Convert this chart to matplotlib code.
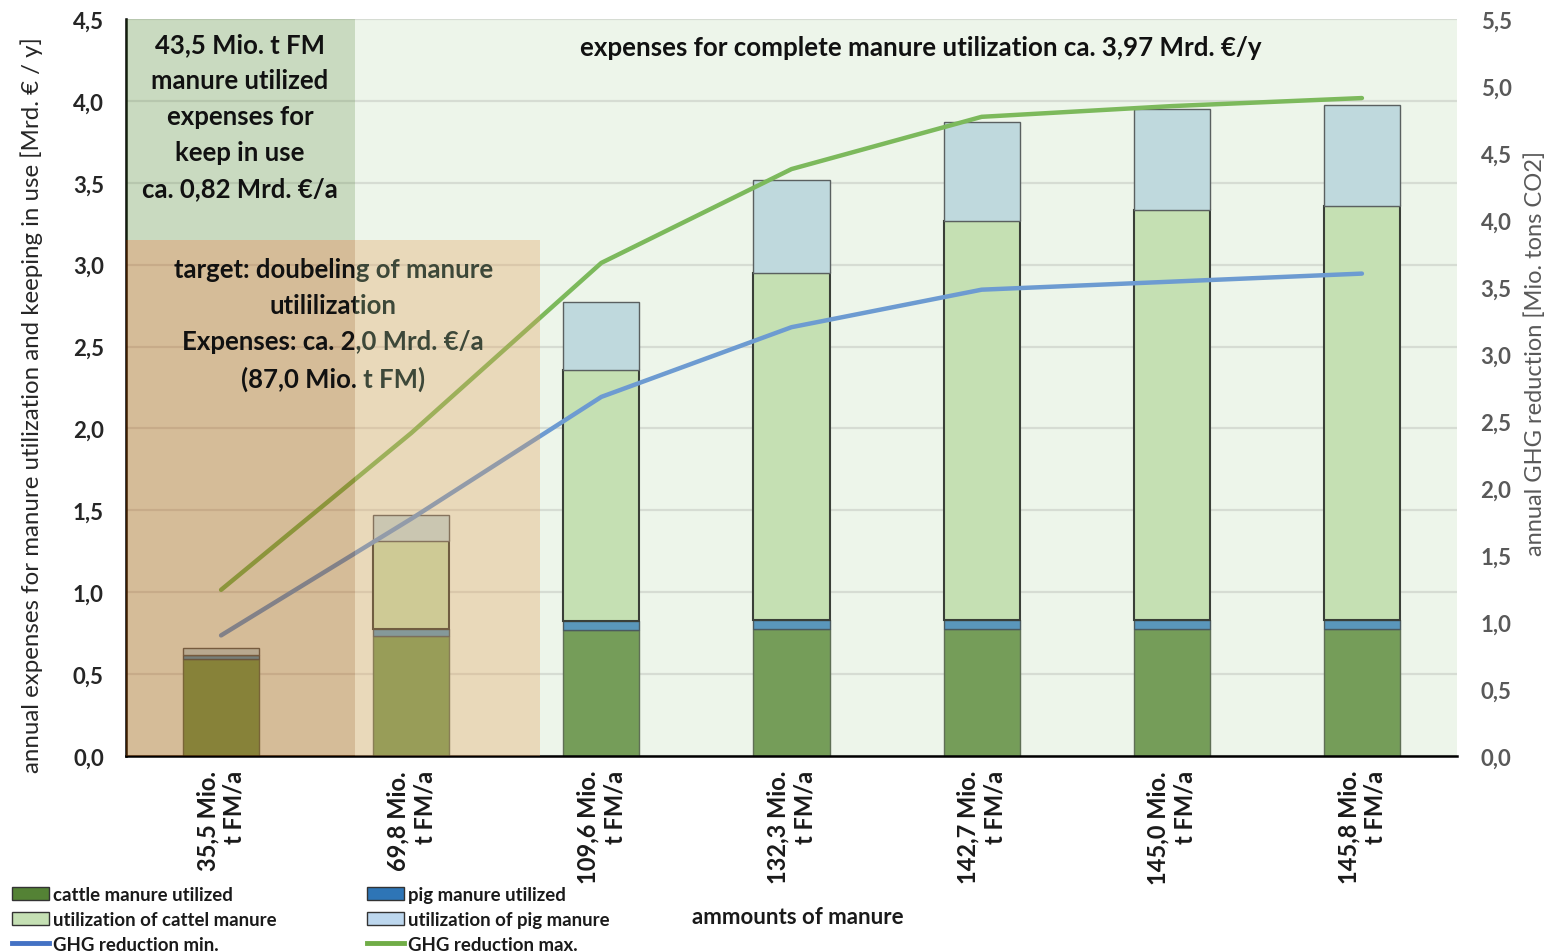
import matplotlib
matplotlib.use('Agg')
import matplotlib.pyplot as plt
from matplotlib.patches import Rectangle, Patch
from matplotlib.lines import Line2D
from matplotlib.ticker import FuncFormatter, MultipleLocator
import numpy as np

plt.rcParams['font.family'] = ['Lato', 'DejaVu Sans']

# manure amounts per scenario (x axis)
amounts = ['35,5 Mio.\nt FM/a', '69,8 Mio.\nt FM/a', '109,6 Mio.\nt FM/a', '132,3 Mio.\nt FM/a',
           '142,7 Mio.\nt FM/a', '145,0 Mio.\nt FM/a', '145,8 Mio.\nt FM/a']

# stacked expenses [Mrd. EUR / y]
cattle_utilized = [0.59, 0.735, 0.77, 0.775, 0.775, 0.775, 0.775]
pig_utilized    = [0.025, 0.04, 0.052, 0.053, 0.053, 0.053, 0.053]
cattle_new      = [0.0, 0.535, 1.535, 2.122, 2.438, 2.505, 2.53]
pig_new         = [0.045, 0.16, 0.413, 0.57, 0.604, 0.617, 0.616]

# GHG reduction [Mio. t CO2]
ghg_min = [0.90, 1.77, 2.68, 3.20, 3.48, 3.54, 3.60]
ghg_max = [1.24, 2.41, 3.68, 4.38, 4.77, 4.85, 4.91]

fig = plt.figure(figsize=(15.62, 9.53), dpi=100)
ax = fig.add_axes([126/1562, 1 - 757/953, (1457-126)/1562, (757-20)/953])
ax2 = ax.twinx()
ax2.patch.set_visible(False)

ax.set_facecolor('#edf5ea')
x = np.arange(len(amounts))
w = 0.4

bottom = np.zeros(len(x))
segs = [(cattle_utilized, '#759d59', '#5f6f55', 1.0),
        (pig_utilized, '#5a97bb', '#4a5a60', 1.0),
        (cattle_new, '#c5e0b3', '#3a3f38', 1.5),
        (pig_new, '#bfd9dd', '#5a6060', 1.0)]
for vals, fc, ec, lw in segs:
    vals = np.array(vals)
    ax.bar(x, vals, w, bottom=bottom, color=fc, edgecolor=ec, linewidth=lw, zorder=2)
    bottom += vals

ax.set_xlim(-0.5, 6.5)
ax.set_ylim(0, 4.5)
ax.yaxis.set_major_locator(MultipleLocator(0.5))
ax.yaxis.grid(True, color='#d6dcd3', linewidth=1.6)
ax.set_axisbelow(True)

comma = FuncFormatter(lambda v, p: f'{v:.1f}'.replace('.', ','))
ax.yaxis.set_major_formatter(comma)
ax.tick_params(axis='y', length=0, pad=16, labelsize=16, labelcolor='#262626')
for t in ax.get_yticklabels():
    t.set_fontweight('bold')
ax.set_xticks(x)
ax.set_xticklabels(amounts, rotation=90, fontsize=17, fontweight='bold',
                   ha='center', va='top', multialignment='right', color='#1a1a1a',
                   linespacing=1.2)
ax.tick_params(axis='x', length=0, pad=10)

for s in ['top', 'right']:
    ax.spines[s].set_visible(False)
ax.spines['left'].set_linewidth(1.8)
ax.spines['bottom'].set_linewidth(1.8)

ax2.plot(x, ghg_min, color='#6d9bd1', lw=3.2, solid_capstyle='round', zorder=2)
ax2.plot(x, ghg_max, color='#7cb95c', lw=3.2, solid_capstyle='round', zorder=2)
ax2.set_ylim(0, 5.5)
ax2.yaxis.set_major_locator(MultipleLocator(0.5))
ax2.yaxis.set_major_formatter(comma)
ax2.tick_params(axis='y', length=0, pad=17, labelsize=16, labelcolor='#595959')
for t in ax2.get_yticklabels():
    t.set_fontweight('bold')
for s in ax2.spines.values():
    s.set_visible(False)

# shaded zones: already utilized manure and doubling target
split_x = 0.705
target_x = 1.678
target_y = 3.15
ax2.add_patch(Rectangle((-0.5, target_y), split_x + 0.5, 4.5 - target_y, transform=ax.transData,
                        facecolor='#548235', alpha=0.23, lw=0, zorder=3))
ax2.add_patch(Rectangle((-0.5, 0), split_x + 0.5, target_y, transform=ax.transData,
                        facecolor='#ab5200', alpha=0.35, lw=0, zorder=3))
ax2.add_patch(Rectangle((split_x, 0), target_x - split_x, target_y, transform=ax.transData,
                        facecolor='#e39e57', alpha=0.32, lw=0, zorder=3))

box_txt = '43,5 Mio. t FM\nmanure utilized\nexpenses for\nkeep in use\nca. 0,82 Mrd. €/a'
ax2.text(0.10, 4.42, box_txt, transform=ax.transData, ha='center', va='top',
         fontsize=18.5, fontweight='bold', color='#111111', linespacing=1.6, zorder=5)

target_txt = 'target: doubeling of manure\nutililization\nExpenses: ca. 2,0 Mrd. €/a\n(87,0 Mio. t FM)'
for x0, x1, col in [(-0.5, split_x, '#111111'), (split_x, 6.5, '#3d4839')]:
    t = ax2.text(0.589, 3.045, target_txt, transform=ax.transData, ha='center', va='top',
                 fontsize=18.5, fontweight='bold', color=col, linespacing=1.6, zorder=5)
    clip = Rectangle((x0, 0), x1 - x0, 4.5, transform=ax.transData)
    t.set_clip_path(clip)
    t.set_clip_on(True)

ax2.text(3.68, 4.405, 'expenses for complete manure utilization ca. 3,97 Mrd. €/y',
         transform=ax.transData, ha='center', va='top', fontsize=18.6, fontweight='bold',
         color='#111111', zorder=5)

fig.text(32/1562, 1 - 405/953, 'annual expenses for manure utilization and keeping in use [Mrd. € / y]',
         rotation=90, ha='center', va='center', fontsize=17.3, color='#262626')
fig.text(1535/1562, 1 - 353/953, 'annual GHG reduction [Mio. tons CO2]',
         rotation=90, ha='center', va='center', fontsize=17, color='#595959')
fig.text(798/1562, 1 - 918/953, 'ammounts of manure', ha='center', va='center',
         fontsize=16, fontweight='bold', color='#1a1a1a')

col1 = [Patch(facecolor='#548235', edgecolor='#333333', label='cattle manure utilized'),
        Patch(facecolor='#c5e0b4', edgecolor='#333333', label='utilization of cattel manure'),
        Line2D([], [], color='#4472c4', lw=3.5, label='GHG reduction min.')]
col2 = [Patch(facecolor='#2e75b6', edgecolor='#333333', label='pig manure utilized'),
        Patch(facecolor='#bdd7ee', edgecolor='#333333', label='utilization of pig manure'),
        Line2D([], [], color='#70ad47', lw=3.5, label='GHG reduction max.')]
for handles, lx in [(col1, 12), (col2, 367)]:
    lg = fig.legend(handles=handles, loc='upper left', bbox_to_anchor=(lx/1562, 1 - 887/953),
                    frameon=False, fontsize=13.4, handlelength=2.0, handleheight=0.7,
                    handletextpad=0.2, labelspacing=0.42, borderpad=0, borderaxespad=0)
    for t in lg.get_texts():
        t.set_fontweight('bold')
        t.set_color('#1a1a1a')

fig.savefig('out.png', dpi=100)
